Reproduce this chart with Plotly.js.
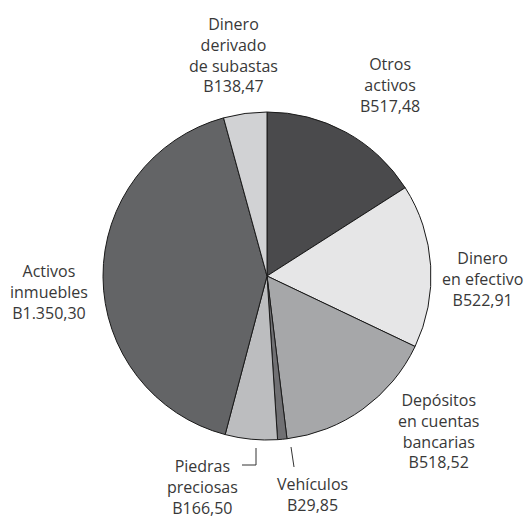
<!DOCTYPE html>
<html>
<head>
<meta charset="utf-8">
<script src="https://cdn.plot.ly/plotly-3.0.1.min.js"></script>
<style>html,body{margin:0;padding:0;background:#fff;}#chart{width:526px;height:518px;}</style>
</head>
<body>
<div id="chart"></div>
<script>
const categories = ["Otros activos", "Dinero en efectivo", "Depósitos en cuentas bancarias", "Vehículos", "Piedras preciosas", "Activos inmuebles", "Dinero derivado de subastas"];
const labelLines = ["Otros<br>activos", "Dinero<br>en efectivo", "Depósitos<br>en cuentas<br>bancarias", "Vehículos", "Piedras<br>preciosas", "Activos<br>inmuebles", "Dinero<br>derivado<br>de subastas"];
const values = [517.48, 522.91, 518.52, 29.85, 166.50, 1350.30, 138.47];
const valueLabels = ["B517,48", "B522,91", "B518,52", "B29,85", "B166,50", "B1.350,30", "B138,47"];
const colors = ["#4a4a4c", "#e6e6e7", "#a6a7a9", "#707073", "#bcbdbf", "#636466", "#d1d2d4"];

const W = 526, H = 518;
const cx = 267, cy = 276, R = 164;
// label block centres in pixels
const labelPos = [[390, 85], [482, 279], [438, 431], [312, 494], [202, 487], [49, 292], [234, 55]];

const px = x => x / W;
const py = y => 1 - y / H;

const trace = {
  type: "pie",
  labels: categories,
  values: values,
  sort: false,
  direction: "clockwise",
  rotation: 0,
  textinfo: "none",
  hoverinfo: "label+value",
  marker: {colors: colors, line: {color: "#1a1a1a", width: 1}},
  domain: {x: [px(cx - R), px(cx + R)], y: [py(cy + R), py(cy - R)]},
  showlegend: false
};

const annotations = categories.map((c, i) => ({
  xref: "paper", yref: "paper",
  x: px(labelPos[i][0]), y: py(labelPos[i][1]),
  xanchor: "center", yanchor: "middle",
  text: labelLines[i] + "<br>" + valueLabels[i],
  showarrow: false,
  align: "center",
  font: {family: "Open Sans, sans-serif", size: 16, color: "#383838"}
}));

const shapes = [
  {type: "line", xref: "paper", yref: "paper", x0: px(256), y0: py(448), x1: px(256), y1: py(465), line: {color: "#333", width: 1}},
  {type: "line", xref: "paper", yref: "paper", x0: px(256), y0: py(465), x1: px(242), y1: py(465), line: {color: "#333", width: 1}},
  {type: "line", xref: "paper", yref: "paper", x0: px(291), y0: py(447), x1: px(294), y1: py(467), line: {color: "#333", width: 1}}
];

const layout = {
  width: W, height: H,
  margin: {l: 0, r: 0, t: 0, b: 0},
  paper_bgcolor: "#ffffff",
  annotations: annotations,
  shapes: shapes
};

Plotly.newPlot("chart", [trace], layout, {displayModeBar: false, staticPlot: true});
</script>
</body>
</html>
